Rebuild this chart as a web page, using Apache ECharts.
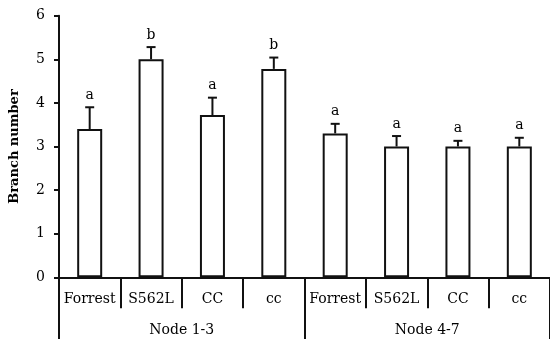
<!DOCTYPE html>
<html>
<head>
<meta charset="utf-8">
<script src="https://cdn.jsdelivr.net/npm/echarts@6/dist/echarts.min.js"></script>
<style>html,body{margin:0;padding:0;background:#fff;}#c{width:550px;height:339px;}</style>
</head>
<body>
<div id="c"></div>
<script>
const categories = ['Forrest', 'S562L', 'CC', 'cc', 'Forrest', 'S562L', 'CC', 'cc'];
const groups = ['Node 1-3', 'Node 4-7'];
const means = [3.4, 5.0, 3.72, 4.78, 3.3, 3.0, 3.0, 3.0];
const errors = [0.5, 0.28, 0.4, 0.26, 0.22, 0.24, 0.13, 0.2];
const letters = ['a', 'b', 'a', 'b', 'a', 'a', 'a', 'a'];
const yTicks = [0, 1, 2, 3, 4, 5, 6];

const FONT = "'DejaVu Serif', serif";
const INK = '#111';
const TXT = '#000';

const chart = echarts.init(document.getElementById('c'), null, {renderer: 'canvas'});
chart.setOption({
  animation: false,
  backgroundColor: '#fff',
  grid: {left: 58.5, right: -3.7, top: 15.7, bottom: 61.7, containLabel: false},
  xAxis: [
    {
      type: 'category', data: categories, position: 'bottom',
      axisLine: {show: true, lineStyle: {color: INK, width: 2}},
      axisTick: {show: true, interval: 0, length: 31, lineStyle: {color: INK, width: 2}},
      axisLabel: {interval: 0, margin: 15, color: TXT, fontFamily: FONT, fontSize: 14}
    },
    {
      type: 'category', data: groups, position: 'bottom',
      axisLine: {show: false},
      axisTick: {show: true, interval: 0, length: 64, lineStyle: {color: INK, width: 2}},
      axisLabel: {interval: 0, margin: 46, color: TXT, fontFamily: FONT, fontSize: 14}
    }
  ],
  yAxis: {
    type: 'value', min: yTicks[0], max: yTicks[yTicks.length - 1], interval: 1,
    name: 'Branch number', nameLocation: 'middle', nameGap: 38,
    nameTextStyle: {color: TXT, fontFamily: FONT, fontSize: 13, fontWeight: 'bold'},
    axisLine: {show: true, lineStyle: {color: INK, width: 2}},
    axisTick: {show: true, inside: false, length: 5, lineStyle: {color: INK, width: 2}},
    axisLabel: {margin: 14, color: TXT, fontFamily: FONT, fontSize: 14,
      formatter: v => yTicks.includes(v) ? String(v) : ''},
    splitLine: {show: false}
  },
  series: [
    {
      type: 'bar', xAxisIndex: 0, data: means, barWidth: 25,
      itemStyle: {color: '#fff', borderColor: INK, borderWidth: 2}
    },
    {
      type: 'custom', xAxisIndex: 0,
      data: means.map((m, i) => [i, m, m + errors[i]]),
      renderItem: function (params, api) {
        const i = api.value(0);
        const base = api.coord([i, api.value(1)]);
        const top = api.coord([i, api.value(2)]);
        const hw = 4.5;
        return {
          type: 'group',
          children: [
            {type: 'line', shape: {x1: base[0], y1: base[1], x2: top[0], y2: top[1]},
              style: {stroke: INK, lineWidth: 2}},
            {type: 'line', shape: {x1: top[0] - hw, y1: top[1], x2: top[0] + hw, y2: top[1]},
              style: {stroke: INK, lineWidth: 2}},
            {type: 'text', style: {text: letters[params.dataIndex], x: top[0], y: top[1] - 12,
              textAlign: 'center', textVerticalAlign: 'middle',
              font: "14px 'DejaVu Serif', serif", fill: TXT}}
          ]
        };
      }
    }
  ]
});
</script>
</body>
</html>
